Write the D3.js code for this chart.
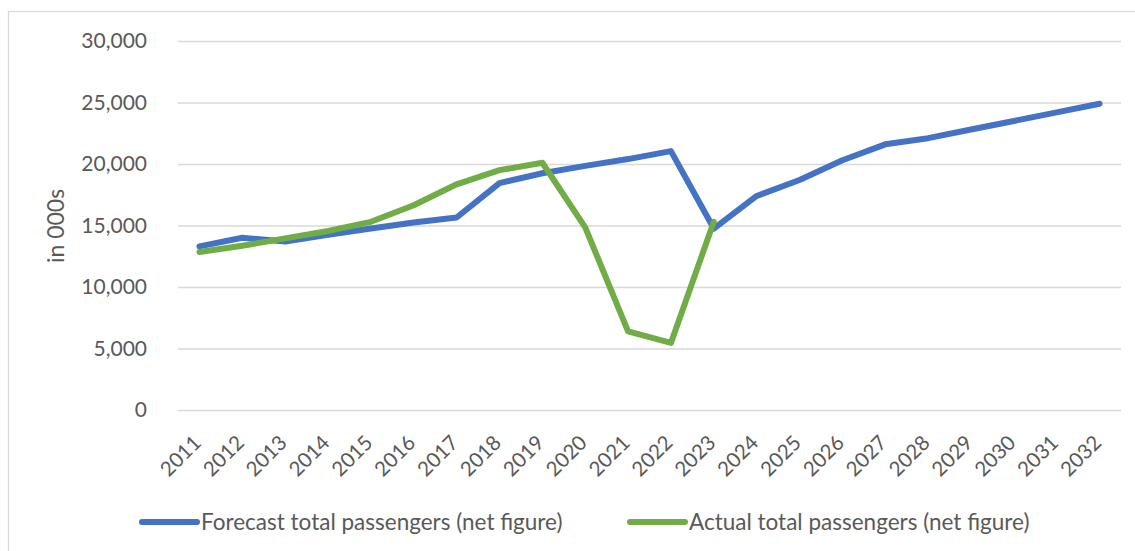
<!DOCTYPE html>
<html>
<head>
<meta charset="utf-8">
<script src="https://cdn.jsdelivr.net/npm/d3@7"></script>
<style>
    html, body { margin: 0; padding: 0; background: #fff; }
    svg { display: block; }
</style>
</head>
<body>
<svg id="passengersChart" width="1135" height="551"></svg>
<script>

var years = ['2011', '2012', '2013', '2014', '2015', '2016', '2017', '2018', '2019', '2020', '2021',
    '2022', '2023', '2024', '2025', '2026', '2027', '2028', '2029', '2030', '2031', '2032'];

var forecastPassengers = [13300, 14000, 13700, 14250, 14750, 15250, 15650, 18450, 19250, 19850, 20400,
    21050, 14750, 17400, 18700, 20300, 21600, 22100, 22800, 23500, 24200, 24900];

// actual figures stop at 2023
var actualPassengers = [12850, 13350, 13950, 14550, 15300, 16650, 18350, 19500, 20100, 14850, 6400,
    5450, 15300];

var yTicks = [0, 5000, 10000, 15000, 20000, 25000, 30000];

var seriesNames = ['Forecast total passengers (net figure)', 'Actual total passengers (net figure)'];

var colors = ['#4472C4', '#70AD47'];

(function () {

    var svg = d3.select('#passengersChart'),
        font = 'Lato, "Liberation Sans", sans-serif',
        textColor = '#595959',
        gridColor = '#D9D9D9',
        left = 178,
        right = 1121,
        top = 41,
        bottom = 410;

    svg.append('rect')
        .attr('x', 8.5)
        .attr('y', 11.5)
        .attr('width', 1140)
        .attr('height', 560)
        .attr('fill', '#fff')
        .attr('stroke', gridColor)
        .attr('stroke-width', 1.3);

    var x = d3.scaleBand()
        .domain(years)
        .range([left, right])
        .paddingInner(0)
        .paddingOuter(0);

    var y = d3.scaleLinear()
        .domain([0, 30000])
        .range([bottom, top]);

    var cx = function (year) {

        return x(year) + x.bandwidth() / 2;

    };

    // grid and y labels
    var yAxis = svg.append('g')
        .attr('transform', 'translate(' + left + ',0)')
        .call(d3.axisLeft(y)
            .tickValues(yTicks)
            .tickFormat(d3.format(','))
            .tickSize(-(right - left))
            .tickPadding(31));

    yAxis.select('.domain').remove();

    yAxis.selectAll('.tick line')
        .attr('stroke', gridColor)
        .attr('stroke-width', 1.3);

    yAxis.selectAll('.tick text')
        .attr('fill', textColor)
        .attr('font-family', font)
        .attr('font-size', 21);

    // x labels, rotated
    var xAxis = svg.append('g')
        .attr('transform', 'translate(0,' + bottom + ')')
        .call(d3.axisBottom(x).tickSize(0).tickPadding(0));

    xAxis.select('.domain').remove();

    xAxis.selectAll('.tick text')
        .attr('fill', textColor)
        .attr('font-family', font)
        .attr('font-size', 20.5)
        .attr('text-anchor', 'end')
        .attr('dy', 0)
        .attr('y', 0)
        .attr('transform', 'translate(' + (x.bandwidth() / 2 + 3) + ',34) rotate(-45)');

    xAxis.selectAll('.tick').attr('transform', function (d) {

        return 'translate(' + x(d) + ',0)';

    });

    svg.append('text')
        .attr('transform', 'translate(64,226) rotate(-90)')
        .attr('text-anchor', 'middle')
        .attr('font-family', font)
        .attr('font-size', 23)
        .attr('fill', textColor)
        .text('in 000s');

    var line = d3.line()
        .x(function (d) {

            return cx(d.year);

        })
        .y(function (d) {

            return y(d.value);

        });

    var series = [forecastPassengers, actualPassengers].map(function (values) {

        return values.map(function (v, i) {

            return { year: years[i], value: v };

        });

    });

    svg.selectAll('.series')
        .data(series)
        .enter().append('path')
        .attr('class', 'series')
        .attr('d', line)
        .attr('fill', 'none')
        .attr('stroke', function (d, i) {

            return colors[i];

        })
        .attr('stroke-width', 6)
        .attr('stroke-linejoin', 'round')
        .attr('stroke-linecap', 'round');

    // legend
    var legendX = [142, 630];

    var legend = svg.selectAll('.legend')
        .data(seriesNames)
        .enter().append('g')
        .attr('class', 'legend')
        .attr('transform', function (d, i) {

            return 'translate(' + legendX[i] + ',522)';

        });

    legend.append('line')
        .attr('x1', 0)
        .attr('x2', 55)
        .attr('stroke', function (d, i) {

            return colors[i];

        })
        .attr('stroke-width', 6)
        .attr('stroke-linecap', 'round');

    legend.append('text')
        .attr('x', 59)
        .attr('y', 7.5)
        .attr('font-family', font)
        .attr('font-size', 22.5)
        .attr('fill', textColor)
        .text(function (d) {

            return d;

        });

})();

</script>
</body>
</html>
